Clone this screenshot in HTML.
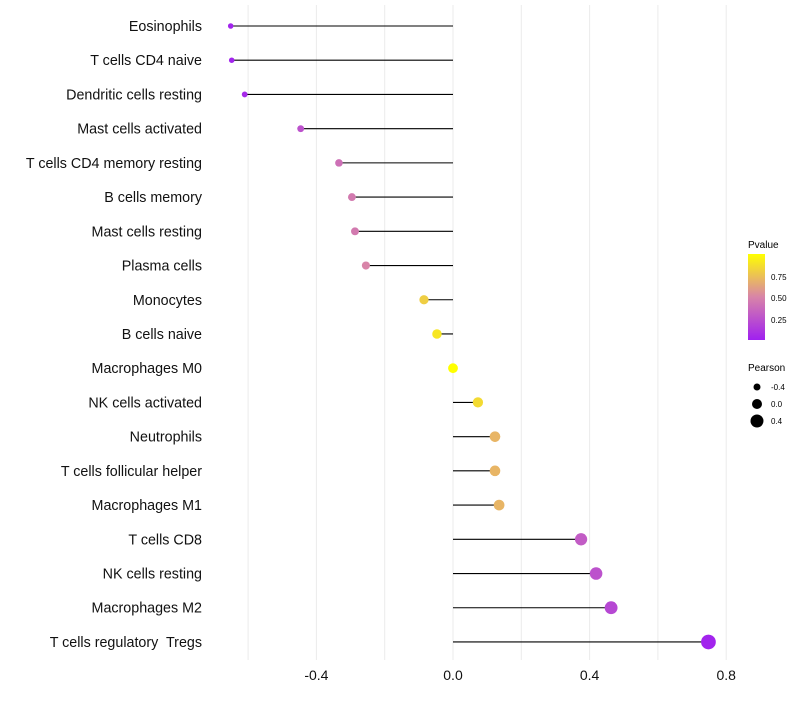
<!DOCTYPE html>
<html><head><meta charset="utf-8"><style>
body{margin:0;background:#fff;font-family:"Liberation Sans",sans-serif;}
text{white-space:pre;}
</style></head><body>
<svg id="chart" width="800" height="700" xmlns="http://www.w3.org/2000/svg">
<g id="grid"></g><g id="labels"></g><g id="marks"></g><g id="xticks"></g>
<g>
<defs><linearGradient id="pg" x1="0" y1="1" x2="0" y2="0">
<stop offset="0" stop-color="#a020f0"/><stop offset="0.5" stop-color="#d884a8"/><stop offset="1" stop-color="#ffff00"/></linearGradient></defs>
<text x="748" y="248" font-size="10">Pvalue</text>
<rect x="748" y="254" width="17" height="86" fill="url(#pg)"/>
<text x="771" y="280" font-size="8">0.75</text>
<text x="771" y="301" font-size="8">0.50</text>
<text x="771" y="323" font-size="8">0.25</text>
</g>
<g>
<text x="748" y="371" font-size="10">Pearson</text>
<circle cx="757" cy="387" r="3.5"/>
<circle cx="757" cy="404" r="5"/>
<circle cx="757" cy="421" r="6.5"/>
<text x="771" y="390" font-size="8">-0.4</text>
<text x="771" y="407" font-size="8">0.0</text>
<text x="771" y="424" font-size="8">0.4</text>
</g>
</svg>
<script>
const categories=["Eosinophils","T cells CD4 naive","Dendritic cells resting","Mast cells activated","T cells CD4 memory resting","B cells memory","Mast cells resting","Plasma cells","Monocytes","B cells naive","Macrophages M0","NK cells activated","Neutrophils","T cells follicular helper","Macrophages M1","T cells CD8","NK cells resting","Macrophages M2","T cells regulatory  Tregs"];
const pearson=[-0.651,-0.648,-0.61,-0.446,-0.334,-0.296,-0.287,-0.255,-0.085,-0.047,0,0.073,0.123,0.123,0.135,0.375,0.419,0.463,0.748];
const pvalues=[0.02,0.02,0.05,0.25,0.4,0.45,0.45,0.5,0.8,0.9,1.0,0.85,0.7,0.7,0.7,0.3,0.25,0.2,0.02];
const xTicks=[-0.4,0,0.4,0.8];
const xTickLabels=["-0.4","0.0","0.4","0.8"];
const gridVals=[-0.6,-0.4,-0.2,0,0.2,0.4,0.6,0.8];
const NS="http://www.w3.org/2000/svg";
const x=v=>453+v*341.5;
const y=i=>26+i*34.22;
const r=v=>Math.max(1.5,4.9+3.3*v);
function col(p){const a=[160,32,240],m=[216,132,168],b=[255,255,0];let s,e,t;if(p<0.5){s=a;e=m;t=p/0.5}else{s=m;e=b;t=(p-0.5)/0.5}return `rgb(${s.map((c,k)=>Math.round(c+(e[k]-c)*t)).join(",")})`;}
function mk(t,at,parent){const el=document.createElementNS(NS,t);for(const k in at)el.setAttribute(k,at[k]);document.getElementById(parent).appendChild(el);return el;}
gridVals.forEach(v=>{const l=mk("line",{x1:x(v),x2:x(v),y1:5,y2:660,stroke:"#ebebeb","stroke-width":1},"grid");

});
xTicks.forEach((v,i)=>{const t=mk("text",{x:x(v),y:680,"font-size":14,"text-anchor":"middle",fill:"#111"},"xticks");t.textContent=xTickLabels[i];

});
categories.forEach((c,i)=>{const t=mk("text",{x:202,y:y(i)+5,"font-size":14.3,"text-anchor":"end",fill:"#111"},"labels");t.textContent=c;


const l=mk("line",{x1:x(0),x2:x(pearson[i]),y1:y(i),y2:y(i),stroke:"#000","stroke-width":1.1},"marks");


const d=mk("circle",{cx:x(pearson[i]),cy:y(i),r:r(pearson[i]),fill:col(pvalues[i])},"marks");

});
</script>
</body></html>
